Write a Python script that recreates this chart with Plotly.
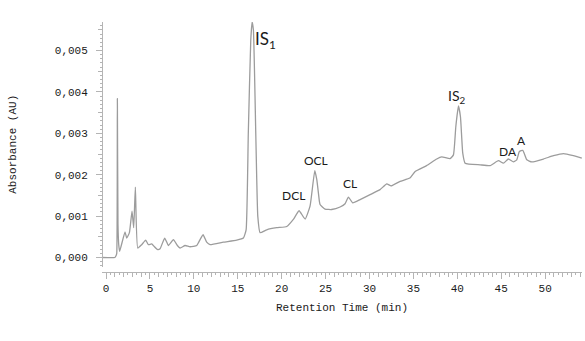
import plotly.graph_objects as go

# Retention time (min) and absorbance (AU)
time_min = [
    -0.45, 1.0, 1.15, 1.22, 1.29, 1.36, 1.45, 1.55, 2.16, 2.35, 2.66, 2.96, 3.15, 3.34, 3.61,
    4.06, 4.52, 4.82, 5.2, 5.47, 5.88, 6.15, 6.68, 7.1, 7.67, 8.12, 8.43, 9.0, 9.57, 10.33,
    10.5, 11.05, 11.46, 11.85, 13.36, 14.88, 15.64, 15.95, 16.2, 16.48, 16.63, 16.78, 17.05,
    17.28, 17.54, 18.3, 19.44, 20.58, 21.33, 21.98, 22.67, 23.23, 23.77, 24.0, 24.3, 24.37,
    24.94, 25.7, 26.65, 27.22, 27.6, 28.1, 28.93, 30.07, 31.2, 31.97, 32.46, 33.49, 34.6,
    35.2, 36.5, 37.66, 38.23, 39.18, 39.56, 39.83, 40.13, 40.36, 40.62, 40.89, 42.6, 43.74,
    44.68, 45.25, 45.82, 46.39, 46.77, 47.07, 47.46, 47.92, 48.48, 49.81, 50.95, 52.09,
    53.22, 54.18,
]
absorbance = [
    0.0, 0.0, 0.00005, 0.0001, 0.00384, 0.0008, 0.0003, 0.00015, 0.00062, 0.00047, 0.0006,
    0.00112, 0.00072, 0.0017, 0.00023,
    0.00031, 0.00042, 0.00031, 0.00033, 0.00027, 0.00019, 0.00021, 0.00047, 0.00029, 0.00043,
    0.00029, 0.00023, 0.00029, 0.00026, 0.00029,
    0.00035, 0.00055, 0.00037, 0.00031, 0.00037, 0.00042, 0.00047, 0.00067, 0.003, 0.00525,
    0.00569, 0.0055, 0.003,
    0.001, 0.0006, 0.00067, 0.00072, 0.00075, 0.00092, 0.00113, 0.00093, 0.00124, 0.0021,
    0.00188, 0.00135, 0.00128,
    0.00117, 0.00116, 0.00122, 0.0013, 0.00146, 0.00132, 0.0014, 0.00152, 0.00164, 0.00178,
    0.00173, 0.00184, 0.00192,
    0.00208, 0.00222, 0.00238, 0.00243, 0.00239, 0.00248, 0.00316, 0.00366, 0.0034, 0.00252,
    0.00228, 0.00224, 0.00222,
    0.00234, 0.00228, 0.00238, 0.00231, 0.00236, 0.00256, 0.00259, 0.00236, 0.00231, 0.00238,
    0.00246, 0.00251,
    0.00246, 0.0024,
]

peak_labels = ["IS<sub>1</sub>", "DCL", "OCL", "CL", "IS<sub>2</sub>", "DA", "A"]
peak_label_t = [18.2, 21.4, 23.9, 27.8, 40.0, 45.8, 47.3]
peak_label_v = [0.00525, 0.00149, 0.00234, 0.00178, 0.00388, 0.00255, 0.00282]
peak_label_size = [17, 12, 12, 12, 14, 12, 12]

x_ticks = [0, 5, 10, 15, 20, 25, 30, 35, 40, 45, 50]
y_ticks = [0.0, 0.001, 0.002, 0.003, 0.004, 0.005]
y_tick_text = ["0,000", "0,001", "0,002", "0,003", "0,004", "0,005"]

X_RANGE = [-0.46, 54.2]
Y_RANGE = [-0.000217, 0.00569]
AXIS_GRAY = "#b4b4b4"
MONO = "Liberation Mono, Courier New, monospace"
TEXT = "#1a1a1a"

fig = go.Figure()
fig.add_trace(go.Scatter(
    x=time_min, y=absorbance, mode="lines",
    line=dict(color="#9c9c9c", width=1.3, shape="spline", smoothing=0.4),
    showlegend=False, hoverinfo="skip",
))
# invisible trace to activate the secondary (medium-tick) axes
fig.add_trace(go.Scatter(x=[None], y=[None], xaxis="x2", yaxis="y2", showlegend=False,
                         hoverinfo="skip"))

for txt, t, v, s in zip(peak_labels, peak_label_t, peak_label_v, peak_label_size):
    fig.add_annotation(x=t, y=v, text=txt, showarrow=False,
                       font=dict(family="Lato, Open Sans, sans-serif", size=s, color=TEXT))

fig.update_layout(
    width=585, height=341,
    margin=dict(l=102, r=3, t=22, b=69, autoexpand=False),
    paper_bgcolor="white", plot_bgcolor="white",
    xaxis=dict(
        range=X_RANGE, domain=[0, 1], anchor="free", position=0, automargin=False,
        showline=True, linecolor=AXIS_GRAY, linewidth=1,
        showgrid=False, zeroline=False,
        tickmode="array", tickvals=x_ticks, ticktext=[str(v) for v in x_ticks],
        ticks="outside", ticklen=6, tickcolor=AXIS_GRAY, tickwidth=1,
        minor=dict(dtick=0.5, ticks="outside", ticklen=2, tickcolor=AXIS_GRAY, showgrid=False),
        tickfont=dict(family=MONO, size=11, color=TEXT),
        title=dict(text="Retention Time (min)", standoff=9,
                   font=dict(family=MONO, size=11, color=TEXT)),
    ),
    yaxis=dict(
        range=Y_RANGE, domain=[0.022, 1], anchor="free", position=0, automargin=False,
        showline=True, linecolor=AXIS_GRAY, linewidth=1,
        showgrid=False, zeroline=False,
        tickmode="array", tickvals=y_ticks, ticktext=y_tick_text,
        ticks="outside", ticklen=6, tickcolor=AXIS_GRAY, tickwidth=1,
        minor=dict(dtick=0.0001, ticks="outside", ticklen=2, tickcolor=AXIS_GRAY, showgrid=False),
        tickfont=dict(family=MONO, size=11, color=TEXT),
        ticklabelstandoff=6,
        title=dict(text="Absorbance (AU)", standoff=34,
                   font=dict(family=MONO, size=11, color=TEXT)),
    ),
    xaxis2=dict(
        range=X_RANGE, domain=[0, 1], anchor="free", position=0, overlaying="x",
        automargin=False,
        showline=False, showgrid=False, zeroline=False, showticklabels=False,
        tickmode="linear", tick0=0, dtick=1, ticks="outside", ticklen=4,
        tickcolor=AXIS_GRAY, tickwidth=1,
    ),
    yaxis2=dict(
        range=Y_RANGE, domain=[0.022, 1], anchor="free", position=0, overlaying="y",
        automargin=False,
        showline=False, showgrid=False, zeroline=False, showticklabels=False,
        tickmode="linear", tick0=0, dtick=0.0005, ticks="outside", ticklen=4,
        tickcolor=AXIS_GRAY, tickwidth=1,
    ),
)

fig.write_html("out.html", config={"displayModeBar": False},
               post_script="document.body.style.margin='0';")
